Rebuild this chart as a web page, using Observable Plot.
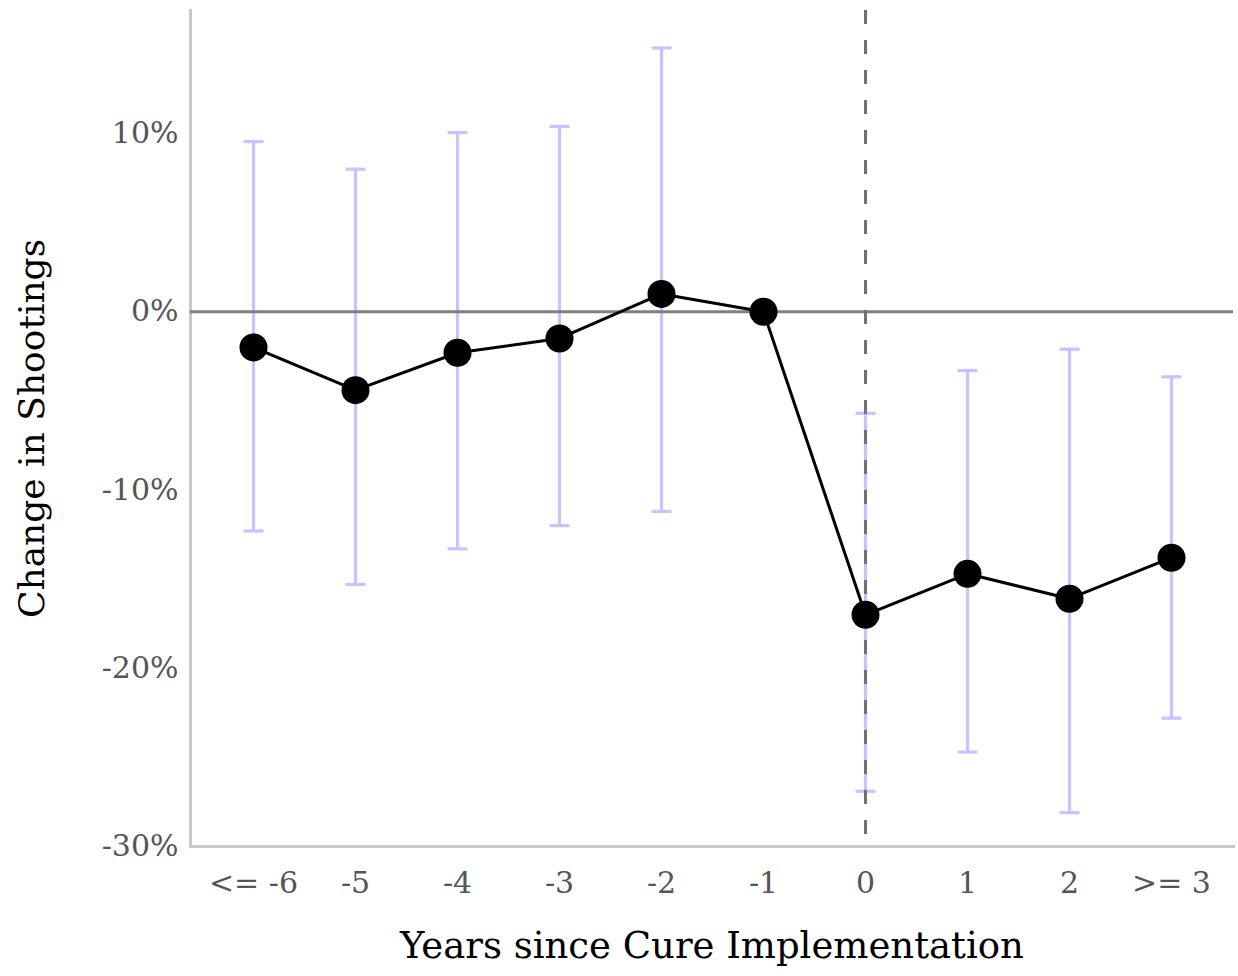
<!DOCTYPE html>
<html>
<head>
<meta charset="utf-8">
<script src="https://cdn.jsdelivr.net/npm/d3@7"></script>
<script src="https://cdn.jsdelivr.net/npm/@observablehq/plot@0.6"></script>
<style>
  html, body { margin: 0; padding: 0; background: #fff; }
  svg { display: block; }
</style>
</head>
<body>
<div id="chart"></div>
<script>
const categories = ["<= -6", "-5", "-4", "-3", "-2", "-1", "0", "1", "2", ">= 3"];
const estimates  = [-2.0, -4.4, -2.3, -1.5, 1.0, 0.0, -17.0, -14.7, -16.1, -13.8];
const ciLow      = [-12.3, -15.3, -13.3, -12.0, -11.2, null, -26.9, -24.7, -28.1, -22.8];
const ciHigh     = [9.55, 8.0, 10.05, 10.4, 14.8, null, -5.7, -3.3, -2.1, -3.65];
const yTicks     = [-30, -20, -10, 0, 10];

const data = categories.map((c, i) => ({cat: c, est: estimates[i], lo: ciLow[i], hi: ciHigh[i]}));
const bars = data.filter(d => d.lo != null);

const font = "'DejaVu Serif', serif";
const capSymbol = {draw(ctx) { ctx.moveTo(-10, 0); ctx.lineTo(10, 0); }};

const chart = Plot.plot({
  width: 1238,
  height: 976,
  marginLeft: 190,
  marginRight: 5,
  marginTop: 10,
  marginBottom: 130,
  style: {fontFamily: font, background: "#fff"},
  x: {type: "point", domain: categories, padding: 0.6},
  y: {domain: [-30, 16.9]},
  marks: [
    Plot.frame({anchor: "left", stroke: "#c8c8c8", strokeWidth: 3}),
    Plot.frame({anchor: "bottom", stroke: "#c8c8c8", strokeWidth: 3}),
    Plot.axisY({ticks: yTicks, tickFormat: d => d + "%", tickSize: 0, tickPadding: 12, fontSize: 30, color: "#555", label: null}),
    Plot.axisX({tickSize: 0, tickPadding: 25, fontSize: 30, color: "#555", label: null}),
    Plot.ruleX(bars, {x: "cat", y1: "lo", y2: "hi", stroke: "#c4c4ff", strokeWidth: 3.2}),
    Plot.dot(bars, {x: "cat", y: "lo", symbol: capSymbol, stroke: "#c4c4ff", strokeWidth: 3.2, fill: "none"}),
    Plot.dot(bars, {x: "cat", y: "hi", symbol: capSymbol, stroke: "#c4c4ff", strokeWidth: 3.2, fill: "none"}),
    Plot.ruleY([0], {stroke: "#808080", strokeWidth: 3}),
    Plot.ruleX(["0"], {stroke: "#707070", strokeWidth: 3, strokeDasharray: "14,16"}),
    Plot.line(data, {x: "cat", y: "est", stroke: "black", strokeWidth: 3}),
    Plot.dot(data, {x: "cat", y: "est", r: 14, fill: "black", stroke: "none"}),
    Plot.text(["Change in Shootings"], {frameAnchor: "left", textAnchor: "middle", dx: -158, rotate: -90, fontSize: 36, fill: "#000", fontFamily: font}),
    Plot.text(["Years since Cure Implementation"], {frameAnchor: "bottom", dy: 111, fontSize: 37, fill: "#000", fontFamily: font})
  ]
});
document.getElementById("chart").appendChild(chart);
</script>
</body>
</html>
